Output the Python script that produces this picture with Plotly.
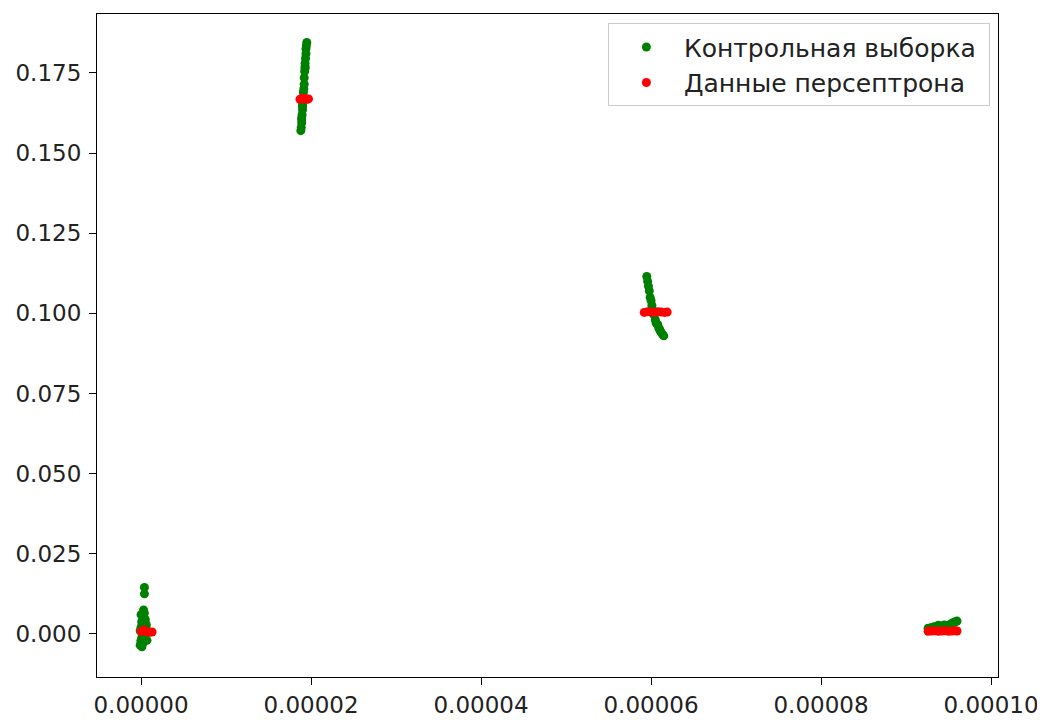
import plotly.graph_objects as go

# Control sample (green), x in units of 1e-6
ctrl_x_e6 = [0.4, 0.4, 0.3, 0.4, 0.2, 0.3, 0.1, 0.4, 0.0, 0.5, 0.3, 0.1, 0.0, 0.2, -0.1, 0.1, 0.2, 0.6, 0.4, 0.1,
             0.5, 0.0, 0.3, 0.6, 0.2, 0.7, -0.1, 0.6, 0.0,
             18.8, 18.85, 18.9, 18.9, 18.95, 19.0, 19.0, 19.05, 19.1, 19.1, 19.15, 19.2, 19.2, 19.25, 19.3, 19.3,
             19.35, 19.4, 19.4, 19.45, 19.5, 19.0, 19.3, 18.9,
             59.5, 59.6, 59.7, 59.8, 59.9, 60.0, 60.1, 60.2, 60.35, 60.5, 60.6, 60.8, 60.9, 61.0, 61.1, 61.2, 61.35, 61.5,
             92.6, 93.0, 93.3, 93.6, 94.0, 94.3, 94.6, 94.8, 95.2, 95.5, 95.8, 96.0, 93.8, 94.5]
ctrl_y = [0.0145, 0.0125, 0.0075, 0.0065, 0.0060, 0.0050, 0.0040, 0.0030, 0.0020, 0.0010, 0.0000, -0.0010,
          -0.0020, -0.0030, -0.0035, -0.0040, 0.0005, 0.0015, -0.0005, 0.0035,
          0.0045, -0.0025, -0.0015, 0.0025, 0.0055, -0.0020, 0.0010, 0.0030, 0.0060,
          0.157, 0.158, 0.1595, 0.161, 0.162, 0.1635, 0.165, 0.166, 0.1675, 0.169, 0.170, 0.1715, 0.1735,
          0.1755, 0.177, 0.178, 0.1795, 0.181, 0.1825, 0.1835, 0.1845, 0.1645, 0.1765, 0.1605,
          0.1115, 0.110, 0.1085, 0.107, 0.105, 0.104, 0.1025, 0.101, 0.0995, 0.098, 0.097, 0.0965, 0.0955,
          0.095, 0.0945, 0.094, 0.0935, 0.093,
          0.0018, 0.0020, 0.0022, 0.0023, 0.0024, 0.0025, 0.0026, 0.0022, 0.0030, 0.0035, 0.0038, 0.0040,
          0.0027, 0.0028]

# Perceptron output (red), x in units of 1e-6
perc_x_e6 = [0.0, 0.2, 0.4, 0.6, 1.0, 1.3,
             18.7, 18.9, 19.1, 19.3, 19.5, 19.7,
             59.2, 59.6, 60.0, 60.4, 60.8, 61.2, 61.6, 61.9,
             92.6, 93.0, 93.4, 93.8, 94.2, 94.6, 95.0, 95.4, 95.8, 96.0]
perc_y = [0.0008, 0.0010, 0.0012, 0.0007, 0.0005, 0.0006,
          0.1668, 0.1670, 0.1669, 0.1670, 0.1668, 0.1669,
          0.1003, 0.1005, 0.1004, 0.1003, 0.1005, 0.1004, 0.1003, 0.1004,
          0.0008, 0.0009, 0.0010, 0.0008, 0.0009, 0.0010, 0.0008, 0.0009, 0.0010, 0.0009]

ctrl_x = [v * 1e-6 for v in ctrl_x_e6]
perc_x = [v * 1e-6 for v in perc_x_e6]

x_ticks = [0.0, 0.00002, 0.00004, 0.00006, 0.00008, 0.00010]
x_tick_labels = ["0.00000", "0.00002", "0.00004", "0.00006", "0.00008", "0.00010"]
y_ticks = [0.0, 0.025, 0.05, 0.075, 0.1, 0.125, 0.15, 0.175]
y_tick_labels = ["0.000", "0.025", "0.050", "0.075", "0.100", "0.125", "0.150", "0.175"]

fig = go.Figure()
fig.add_trace(go.Scatter(x=ctrl_x, y=ctrl_y, mode="markers", name="Контрольная выборка\u00a0",
                         legendgroup="ctrl", marker=dict(color="#008000", size=9)))
fig.add_trace(go.Scatter(x=perc_x, y=perc_y, mode="markers", name="Данные персептрона",
                         legendgroup="perc", marker=dict(color="#ff0000", size=9)))

axis_common = dict(showline=True, linecolor="black", linewidth=1.2, mirror=True,
                   ticks="outside", ticklen=7, tickwidth=1.2, tickcolor="black",
                   showgrid=False, zeroline=False, automargin=False)

fig.update_layout(
    width=1037, height=712,
    margin=dict(l=89, r=47, t=6, b=43),
    plot_bgcolor="white", paper_bgcolor="white",
    font=dict(family="DejaVu Sans", size=23, color="#222222"),
    xaxis=dict(range=[-0.00000518, 0.00010082], tickvals=x_ticks, ticktext=x_tick_labels, **axis_common),
    yaxis=dict(range=[-0.01344, 0.1934], tickvals=y_ticks, ticktext=y_tick_labels,
               ticklabelstandoff=3, **axis_common),
    legend=dict(x=0.991, y=0.986, xanchor="right", yanchor="top",
                bordercolor="#cccccc", borderwidth=1, bgcolor="rgba(255,255,255,0.8)",
                font=dict(size=25), itemwidth=65, tracegroupgap=0, traceorder="grouped"),
)

fig.write_html("out.html")
